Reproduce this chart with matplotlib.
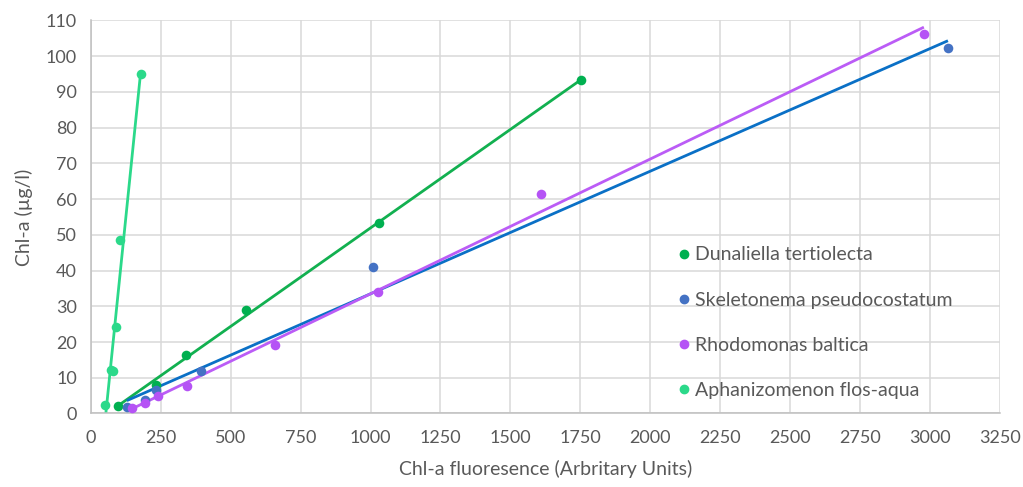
import numpy as np
import matplotlib
matplotlib.use("Agg")
import matplotlib.pyplot as plt
from matplotlib.lines import Line2D

plt.rcParams['font.family'] = ['Lato', 'DejaVu Sans']

species = ["Dunaliella tertiolecta", "Skeletonema pseudocostatum",
           "Rhodomonas baltica", "Aphanizomenon flos-aqua"]

dun_x = [96, 232, 341, 555, 1030, 1752]
dun_y = [2.0, 7.9, 16.3, 29.0, 53.2, 93.2]

ske_x = [129, 195, 232, 394, 1009, 3064]
ske_y = [1.9, 3.7, 6.5, 12.0, 41.0, 102.3]

rho_x = [147, 195, 242, 344, 659, 1027, 1609, 2978]
rho_y = [1.5, 2.9, 5.0, 7.7, 19.2, 34.0, 61.3, 106.1]

aph_x = [52, 71, 80, 90, 105, 179]
aph_y = [2.5, 12.2, 11.8, 24.3, 48.5, 95.0]

point_colors = ["#00B050", "#4472C4", "#B553F5", "#2BD98A"]
line_colors = ["#12B050", "#0A70C6", "#BB5CF6", "#2BD98A"]

xticks = list(range(0, 3251, 250))
yticks = list(range(0, 111, 10))

fig = plt.figure(figsize=(10.23, 4.87), dpi=100)
ax = fig.add_axes([0.0887, 0.151, 0.8888, 0.807])

series = [(dun_x, dun_y), (ske_x, ske_y), (rho_x, rho_y), (aph_x, aph_y)]
for (xs, ys), pc, lc in zip(series, point_colors, line_colors):
    xs = np.array(xs, float)
    ys = np.array(ys, float)
    m, b = np.polyfit(xs, ys, 1)
    xl = np.array([xs.min(), xs.max()])
    ax.plot(xl, m * xl + b, color=lc, lw=2.0, zorder=2, solid_capstyle='butt')
    ax.scatter(xs, ys, s=48, color=pc, zorder=3, linewidths=0)

ax.set_xlim(0, 3250)
ax.set_ylim(0, 110)
ax.set_xticks(xticks)
ax.set_yticks(yticks)
ax.grid(True, color="#D9D9D9", lw=1.1)
ax.set_axisbelow(True)
for s in ["top", "right"]:
    ax.spines[s].set_visible(False)
for s in ["left", "bottom"]:
    ax.spines[s].set_color("#BFBFBF")
    ax.spines[s].set_linewidth(1.1)
ax.tick_params(axis='x', length=0, colors="#595959", labelsize=13, pad=12)
ax.tick_params(axis='y', length=0, colors="#595959", labelsize=13, pad=10)
ax.set_xlabel("Chl-a fluoresence (Arbritary Units)", color="#595959", fontsize=14, labelpad=10)
ax.set_ylabel("Chl-a (µg/l)", color="#595959", fontsize=14, labelpad=9)

handles = [Line2D([], [], ls='none', marker='o', markersize=6, color=c) for c in point_colors]
leg = ax.legend(handles, species, loc='upper left', bbox_to_anchor=(0.633, 0.445),
                frameon=False, fontsize=14, labelspacing=1.45, handletextpad=0.1,
                handlelength=1.0, borderaxespad=0)
for t in leg.get_texts():
    t.set_color("#595959")

fig.savefig("out.png", dpi=100)
